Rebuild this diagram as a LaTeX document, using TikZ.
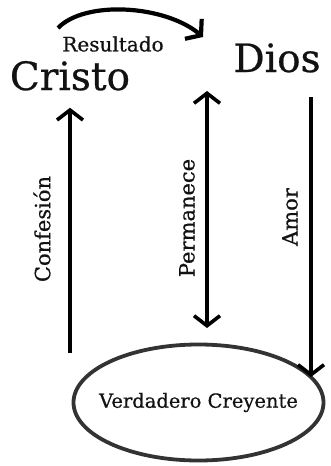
\documentclass[tikz,border=0pt]{standalone}
\usepackage{fontspec}
\setmainfont[FakeBold=0.6]{DejaVu Serif}
\usetikzlibrary{arrows.meta,shapes.geometric}
\definecolor{tinta}{rgb}{0.07,0.07,0.07}
\definecolor{gris}{rgb}{0.2,0.2,0.2}
\tikzset{every node/.style={inner sep=0pt, text=tinta}}
\tikzset{grande/.style={font=\fontsize{39}{40}\selectfont}}
\tikzset{rotulo/.style={font=\fontsize{21}{22}\selectfont, rotate=90}}
\tikzset{punta/.tip={Straight Barb[length=10pt,width=26pt]}}
\tikzset{flecha/.style={line width=3.6pt, -punta}}

\begin{document}
\begin{tikzpicture}[x=1pt,y=1pt]
		\useasboundingbox (0,0) rectangle (330,-466);
		\node[grande, anchor=base] (cristo) at (70,-90) {Cristo};
		\node[grande, anchor=base] (dios) at (277,-72) {Dios};
		\node[font=\fontsize{20}{22}\selectfont] (resultado) at (113,-44) {Resultado};
		\node[ellipse, draw=gris, line width=3.8pt, inner xsep=-40pt, minimum width=250pt, minimum height=116pt, font=\fontsize{19.5}{21}\selectfont] (creyente) at (198.5,-402.5) {Verdadero Creyente};
		\coordinate (resa) at (58,-28);
		\coordinate (resb) at (203,-37);
		\coordinate (confbot) at (70,-353);
		\coordinate (permtop) at (207,-91);
		\coordinate (permbot) at (207,-328);
		\coordinate (amortop) at (311,-97);
		\coordinate (amorbot) at (311,-377);
		\draw[flecha, line width=4.2pt] (resa) .. controls (85,0) and (165,-5) .. (resb);
		\draw[flecha, shorten >=17pt] (confbot) -- (cristo.south);
		\draw[flecha, punta-punta] (permbot) -- (permtop);
		\draw[flecha] (amortop) -- (amorbot);
		\node[rotulo] (confesion) at (42,-229) {Confesión};
		\node[rotulo] (permanece) at (187,-218) {Permanece};
		\node[rotulo] (amor) at (290,-217) {Amor};
	\end{tikzpicture}
\end{document}
